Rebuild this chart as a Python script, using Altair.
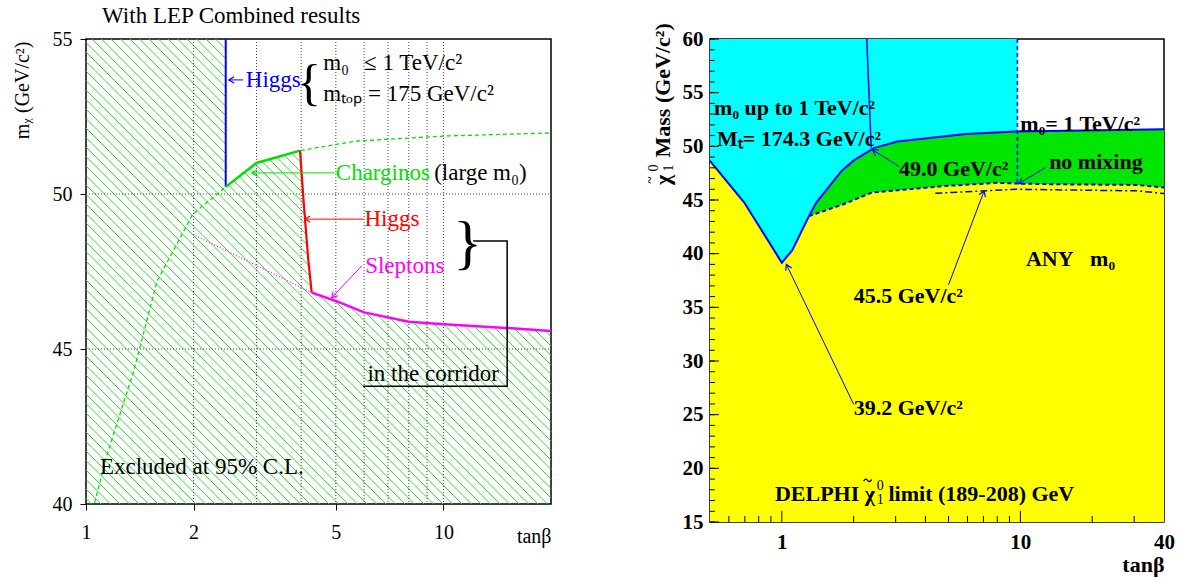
import altair as alt
import numpy as np
import pandas as pd

SERIF = "Liberation Serif"

# ---------------- LEFT PANEL DATA (tanβ, mass in GeV/c²) ----------------
higgs_blue_x = [2.46, 2.46]
higgs_blue_y = [55.0, 50.23]
chargino_x = [2.46, 3.0, 3.97]
chargino_y = [50.23, 51.0, 51.4]
higgs_red_x = [3.97, 4.06, 4.19, 4.28]
higgs_red_y = [51.4, 49.8, 47.84, 46.82]
slepton_x = [4.28, 5.0, 6.0, 8.0, 10.0, 15.0, 20.0]
slepton_y = [46.82, 46.55, 46.18, 45.88, 45.80, 45.68, 45.58]
large_m0_x = [1.057, 1.146, 1.36, 1.58, 1.99, 2.46, 3.0, 3.97, 5.73, 10.08, 20.0]
large_m0_y = [40.04, 41.6, 44.29, 47.19, 49.35, 50.23, 51.0, 51.4, 51.71, 51.87, 51.97]
slepton_dot_x = [1.99, 4.28]
slepton_dot_y = [48.7, 46.82]
grid_x = [2, 3, 4, 5, 6, 7, 8, 9, 10]
grid_y = [45, 50]
left_xticks = [1, 2, 5, 10]
left_yticks = [40, 45, 50, 55]

# ---------------- RIGHT PANEL DATA ----------------
v_curve_x = [0.5, 0.696, 1.0, 1.105, 1.30]
v_curve_y = [48.65, 44.76, 39.16, 40.31, 43.51]
m0_1tev_x = [1.30, 1.395, 1.78, 2.01, 2.43, 3.05, 5.91, 9.6, 30.0, 40.0]
m0_1tev_y = [43.51, 44.76, 47.71, 48.71, 49.83, 50.45, 51.14, 51.38, 51.55, 51.6]
nomix_x = [1.30, 1.81, 2.39, 3.39, 4.8, 8.06, 9.72, 13.6, 31.0, 40.0]
nomix_y = [43.51, 44.6, 45.7, 46.0, 46.3, 46.6, 46.53, 46.47, 46.4, 46.16]
anym0_x = [4.4, 9.6, 31.0, 40.0]
anym0_y = [45.63, 46.0, 45.85, 45.6]
higgs_r_x = [2.27, 2.37]
higgs_r_y = [60.0, 49.9]
m0_edge_x = [9.72, 9.72]
m0_edge_y = [60.0, 46.53]
right_xticks = [1, 10, 40]
right_yticks = [15, 20, 25, 30, 35, 40, 45, 50, 55, 60]
minor_y_ticks = list(range(15, 61))
minor_x_ticks = [0.6, 0.7, 0.8, 0.9, 2, 3, 4, 5, 6, 7, 8, 9, 20, 30]
major_x_ticks = [1, 10]

LW, LH = 465, 465
RW, RH = 454, 483
xsL = alt.Scale(type="log", domain=[1, 20], nice=False)
ysL = alt.Scale(domain=[40, 55], nice=False, zero=False)
xsR = alt.Scale(type="log", domain=[0.5, 40], nice=False)
ysR = alt.Scale(domain=[15, 60], nice=False, zero=False)
kxL = LW / np.log10(20 / 1)
kyL = LH / 15.0
kxR = RW / np.log10(40 / 0.5)
kyR = RH / 45.0

axXL = alt.Axis(
    values=left_xticks, labelExpr="format(datum.value, 'd')", title="tanβ",
    titleX=LW, titleY=32, titleAlign="right", titleBaseline="middle",
    titleFont=SERIF, titleFontSize=20, titleFontWeight="normal", titleColor="black",
    labelFont=SERIF, labelFontSize=20, labelColor="black", labelPadding=12,
    labelFlush=False, labelOverlap=False, tickSize=6, tickColor="black",
    domain=False, grid=False)
axYL = alt.Axis(
    values=left_yticks, title="mᵪ (GeV/c²)", titleX=-64, titleY=2, titleAngle=270,
    titleAlign="right", titleBaseline="middle", titleFont=SERIF, titleFontSize=20,
    titleFontWeight="normal", titleColor="black",
    labelFont=SERIF, labelFontSize=20, labelColor="black", labelPadding=8,
    tickSize=6, tickColor="black", domain=False, grid=False)
BOLD = dict(labelFont=SERIF, labelFontSize=21, labelFontWeight="bold", labelColor="black",
            titleFont=SERIF, titleFontSize=22, titleFontWeight="bold", titleColor="black",
            tickSize=0, domain=False, grid=False)
axXR = alt.Axis(
    values=right_xticks, labelExpr="format(datum.value, 'd')", title="tanβ",
    titleX=RW, titleY=42, titleAlign="right", titleBaseline="middle",
    labelPadding=9, labelFlush=False, labelOverlap=False, **BOLD)
axYR = alt.Axis(
    values=right_yticks, title="Mass (GeV/c²)", titleX=-48, titleY=118, titleAngle=270,
    titleAlign="left", titleBaseline="middle", labelPadding=7, **BOLD)

AXES = {id(xsL): axXL, id(ysL): axYL, id(xsR): axXR, id(ysR): axYR}


def X(xsc, f="x"):
    return alt.X(f"{f}:Q", scale=xsc, axis=AXES[id(xsc)])


def Y(ysc, f="y"):
    return alt.Y(f"{f}:Q", scale=ysc, axis=AXES[id(ysc)])


def line(xs, ys, xsc, ysc, color, width, dash=None):
    df = pd.DataFrame({"x": xs, "y": ys, "o": list(range(len(xs)))})
    kw = dict(color=color, strokeWidth=width)
    if dash:
        kw["strokeDash"] = dash
    return alt.Chart(df).mark_line(**kw).encode(x=X(xsc), y=Y(ysc), order="o:Q")


def segs(rows, xsc, ysc, color, width, dash=None):
    df = pd.DataFrame(rows, columns=["x", "y", "x2", "y2"])
    kw = dict(color=color, strokeWidth=width)
    if dash:
        kw["strokeDash"] = dash
    return alt.Chart(df).mark_rule(**kw).encode(x=X(xsc), y=Y(ysc), x2="x2:Q", y2="y2:Q")


def arrows(rows, xsc, ysc, kx, ky, color, size=110):
    shafts = segs(rows, xsc, ysc, color, 1)
    heads = []
    for xt, yt, xh, yh in rows:
        dxs = (np.log10(xh) - np.log10(xt)) * kx
        dys = -(yh - yt) * ky
        ang = float(np.degrees(np.arctan2(dys, dxs)) % 360)
        heads.append({"x": xh, "y": yh, "a": ang})
    hd = alt.Chart(pd.DataFrame(heads)).mark_point(
        shape="M -1 -0.6 L 0 0 L -1 0.6", filled=False, color=color,
        strokeWidth=1.2, size=size, opacity=1
    ).encode(x=X(xsc), y=Y(ysc), angle=alt.Angle("a:Q", scale=None))
    return shafts + hd


def texts(rows, xsc, ysc, size, weight="normal", align="left", dy=0):
    df = pd.DataFrame(rows, columns=["t", "x", "y", "c"])
    return alt.Chart(df).mark_text(
        align=align, baseline="middle", font=SERIF, fontSize=size, fontWeight=weight, dy=dy
    ).encode(x=X(xsc), y=Y(ysc), text="t:N", color=alt.Color("c:N", scale=None))


def ptext(t, px, py, size, weight="bold", angle=0):
    # text placed in panel pixels (used for the composed axis-title symbol)
    return alt.Chart(pd.DataFrame({"t": [t]})).mark_text(
        align="center", baseline="middle", font=SERIF, fontSize=size, fontWeight=weight,
        angle=angle, color="black"
    ).encode(x=alt.value(px), y=alt.value(py), text="t:N")


# ---------------- LEFT: hatch of the excluded region ----------------
bx = np.log10(np.array(chargino_x + higgs_red_x[1:] + slepton_x[1:]))
by = np.array(chargino_y + higgs_red_y[1:] + slepton_y[1:])


def upper(lx):
    return np.where(lx < np.log10(higgs_blue_x[0]), 55.0, np.interp(lx, bx, by))


hatch = []
pxs = np.arange(0, LW + 0.01, 0.25)
for c in np.arange(-LW + 3, LH, 9.5):
    pys = pxs + c
    lx = pxs / kxL
    yv = 55.0 - pys / kyL
    inside = (pys >= 0) & (pys <= LH) & (yv <= upper(lx) + 1e-9)
    idx = np.flatnonzero(inside)
    if idx.size == 0:
        continue
    br = np.flatnonzero(np.diff(idx) > 1)
    starts = np.r_[idx[0], idx[br + 1]]
    ends = np.r_[idx[br], idx[-1]]
    for s, e in zip(starts, ends):
        if e - s < 2:
            continue
        hatch.append((10 ** lx[s], yv[s], 10 ** lx[e], yv[e]))

GREEN = "#00e000"
axL = alt.Chart(pd.DataFrame({"x": [1, 20], "y": [40, 55]})).mark_point(opacity=0).encode(
    x=X(xsL), y=Y(ysL))

gridL = alt.layer(
    alt.Chart(pd.DataFrame({"x": grid_x})).mark_rule(color="#444", strokeWidth=1, strokeDash=[1, 2]).encode(
        x=X(xsL), y=alt.value(0), y2=alt.value(LH)),
    alt.Chart(pd.DataFrame({"y": grid_y})).mark_rule(color="#444", strokeWidth=1, strokeDash=[1, 2]).encode(
        y=Y(ysL), x=alt.value(0), x2=alt.value(LW)),
)

left_txt = texts([
    ("Higgs", 2.80, 53.68, "#0000ff"),
    ("m₀", 4.61, 54.23, "black"),
    ("≤ 1 TeV/c²", 6.0, 54.23, "black"),
    ("mₜₒₚ", 4.61, 53.23, "black"),
    ("= 175 GeV/c²", 6.15, 53.23, "black"),
    ("Charginos", 5.0, 50.68, GREEN),
    ("(large m₀)", 9.42, 50.68, "black"),
    ("Higgs", 6.01, 49.19, "#ff0000"),
    ("Sleptons", 6.04, 47.68, "#ff00ff"),
    ("in the corridor", 6.13, 44.19, "black"),
    ("Excluded at 95% C.L.", 1.094, 41.19, "black"),
    ("With LEP Combined results", 1.109, 55.74, "black"),
], xsL, ysL, 23)

braces = alt.layer(
    texts([("{", 4.21, 53.55, "black")], xsL, ysL, 50, align="center"),
    texts([("}", 11.69, 48.40, "black")], xsL, ysL, 60, align="center"),
)

corridor = line([12.11, 15.08, 15.08, 5.96], [48.48, 48.48, 43.8, 43.8], xsL, ysL, "black", 1.5)

left = alt.layer(
    axL,
    segs(hatch, xsL, ysL, "#33dd33", 1),
    gridL,
    line(large_m0_x, large_m0_y, xsL, ysL, GREEN, 1.3, [4, 3]),
    line(slepton_dot_x, slepton_dot_y, xsL, ysL, "#ff00ff", 1.2, [1, 2]),
    line(higgs_blue_x, higgs_blue_y, xsL, ysL, "#0000ff", 2),
    line(chargino_x, chargino_y, xsL, ysL, GREEN, 2.5),
    line(higgs_red_x, higgs_red_y, xsL, ysL, "#ff0000", 2.2),
    line(slepton_x, slepton_y, xsL, ysL, "#ff00ff", 2.5),
    arrows([(2.75, 53.68, 2.51, 53.68)], xsL, ysL, kxL, kyL, "#0000ff"),
    arrows([(4.95, 50.68, 2.91, 50.68)], xsL, ysL, kxL, kyL, GREEN),
    arrows([(5.98, 49.19, 4.10, 49.19)], xsL, ysL, kxL, kyL, "#ff0000"),
    arrows([(5.91, 47.68, 4.87, 46.66)], xsL, ysL, kxL, kyL, "#ff00ff"),
    corridor,
    braces,
    left_txt,
).properties(width=LW, height=LH)

# ---------------- RIGHT PANEL ----------------
solid_x = v_curve_x + m0_1tev_x[1:]
solid_y = v_curve_y + m0_1tev_y[1:]
low_x = v_curve_x + nomix_x[1:]
low_y = v_curve_y + nomix_y[1:]

cyan = alt.Chart(pd.DataFrame({"x": [0.5], "x2": [m0_edge_x[0]], "y": [15], "y2": [60]})).mark_rect(
    color="#00ffff").encode(x=X(xsR), x2="x2:Q", y=Y(ysR), y2="y2:Q")
green = alt.Chart(pd.DataFrame({"x": solid_x, "y": solid_y, "b": 15})).mark_area(
    color="#00e600", opacity=1).encode(x=X(xsR), y=Y(ysR), y2="b:Q")
yellow = alt.Chart(pd.DataFrame({"x": low_x, "y": low_y, "b": 15})).mark_area(
    color="#ffff00", opacity=1).encode(x=X(xsR), y=Y(ysR), y2="b:Q")

axR = alt.Chart(pd.DataFrame({"x": [0.5, 40], "y": [15, 60]})).mark_point(opacity=0).encode(
    x=X(xsR), y=Y(ysR))

ticksR = alt.layer(
    alt.Chart(pd.DataFrame({"y": minor_y_ticks})).mark_rule(color="black", strokeWidth=1).encode(
        y=Y(ysR), x=alt.value(0), x2=alt.value(5)),
    alt.Chart(pd.DataFrame({"y": right_yticks})).mark_rule(color="black", strokeWidth=1).encode(
        y=Y(ysR), x=alt.value(0), x2=alt.value(9)),
    alt.Chart(pd.DataFrame({"x": minor_x_ticks})).mark_rule(color="black", strokeWidth=1).encode(
        x=X(xsR), y=alt.value(RH), y2=alt.value(RH - 6)),
    alt.Chart(pd.DataFrame({"x": major_x_ticks})).mark_rule(color="black", strokeWidth=1).encode(
        x=X(xsR), y=alt.value(RH), y2=alt.value(RH - 11)),
)

# composed symbol χ̃⁰₁ of the rotated y-axis title
ytitle_sym = alt.layer(
    ptext("χ", -47, 141, 22, angle=270),
    ptext("~", -60, 141, 13, angle=270),
    ptext("0", -56, 129, 14, weight="normal", angle=270),
    ptext("1", -41, 129, 14, weight="normal", angle=270),
)

BLUE = "#0000ff"
NB = "\u00a0"
right_txt = texts([
    ("m₀ up to 1 TeV/c²", 0.52, 53.56, "black"),
    ("Mₜ= 174.3 GeV/c²", 0.535, 50.67, "black"),
    ("m₀= 1 TeV/c²", 10.0, 52.07, "black"),
    ("49.0 GeV/c²", 3.10, 47.87, "black"),
    ("no mixing", 13.2, 48.58, "black"),
    ("ANY" + NB * 3 + "m₀", 10.55, 39.53, "black"),
    ("45.5 GeV/c²", 2.0, 36.05, "black"),
    ("39.2 GeV/c²", 2.0, 25.63, "black"),
    ("limit (189-208) GeV", 2.80, 17.58, "black"),
], xsR, ysR, 22, weight="bold")
# tilde accent over the χ of the DELPHI label, drawn as a small stroked symbol
tilde = alt.Chart(pd.DataFrame({"x": [2.29], "y": [17.58]})).mark_point(
    shape="M -1 -3.3 Q -0.5 -4.2 0 -3.5 Q 0.5 -2.8 1 -3.7",
    filled=False, color="black", strokeWidth=1.4, size=64, opacity=1,
).encode(x=X(xsR), y=Y(ysR))
delphi = alt.layer(
    texts([("DELPHI χ", 2.457, 17.58, "black")], xsR, ysR, 22, weight="bold", align="right"),
    tilde,
    texts([("0", 2.50, 17.58, "black")], xsR, ysR, 14, align="left", dy=-8),
    texts([("1", 2.50, 17.58, "black")], xsR, ysR, 14, align="left", dy=6),
)

right = alt.layer(
    axR,
    cyan,
    green,
    yellow,
    line(solid_x, solid_y, xsR, ysR, BLUE, 2),
    line(nomix_x, nomix_y, xsR, ysR, BLUE, 2, [4, 3]),
    line(anym0_x, anym0_y, xsR, ysR, BLUE, 1.5, [7, 3, 2, 3]),
    line(m0_edge_x, m0_edge_y, xsR, ysR, BLUE, 1.5, [4, 3]),
    line(higgs_r_x, higgs_r_y, xsR, ysR, BLUE, 1.5),
    arrows([(3.1, 48.12, 2.40, 49.67), (12.7, 48.0, 9.86, 46.53),
            (5.0, 37.1, 7.05, 45.85), (2.0, 25.97, 1.045, 39.0)],
           xsR, ysR, kxR, kyR, BLUE, size=120),
    ticksR,
    right_txt,
    delphi,
    ytitle_sym,
).properties(width=RW, height=RH)

chart = alt.hconcat(left, right, spacing=159, bounds="flush").properties(
    padding={"left": 11, "top": 4, "right": 5, "bottom": 5},
    background="white",
).configure_view(stroke="black", strokeWidth=1.5)

chart.save("out.html", embed_options={"renderer": "svg", "actions": False})
